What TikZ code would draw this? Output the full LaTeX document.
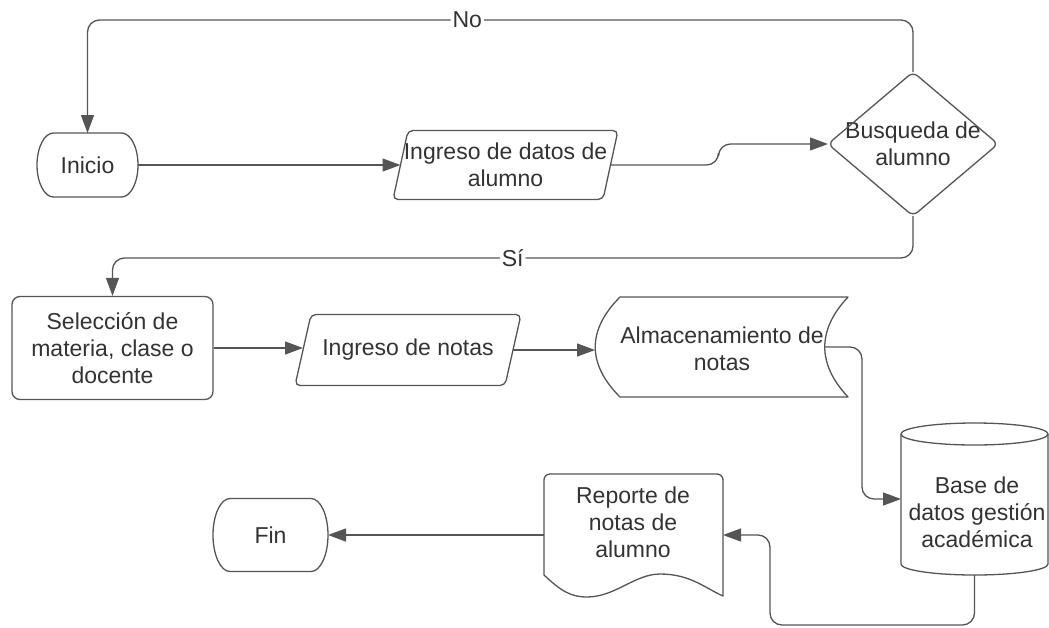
\documentclass[tikz,border=0pt]{standalone}
\usepackage{fontspec}
\setmainfont{Liberation Sans}
\usetikzlibrary{arrows.meta,calc}
\definecolor{linec}{RGB}{85,85,85}
\definecolor{txtc}{RGB}{51,51,51}
\newcommand\flowfont{\fontsize{23}{27}\selectfont}
\tikzset{
  outline/.style={draw=linec, line width=1.3pt, line join=round},
  txt/.style={text=txtc, font=\flowfont, align=center, inner sep=0pt},
  anchorbox/.style={inner sep=0pt, outer sep=0pt, draw=none},
  flow/.style={draw=linec, line width=1.3pt, rounded corners=12pt, -{Triangle[length=18pt,width=13pt]}},
  edgelabel/.style={txt, fill=white, inner xsep=2pt, inner ysep=1pt},
}
\begin{document}
\begin{tikzpicture}[x=1pt,y=-1pt]
\fill[white] (0,0) rectangle (1049,627);
\useasboundingbox (0,0) rectangle (1049,627);

% Inicio (terminator)
\node[anchorbox, txt, minimum width=101pt, minimum height=64pt] (inicio) at (87.5,165) {Inicio};
\draw[outline] (53.5,133) -- (121.5,133) arc[start angle=90,end angle=-90,x radius=16.5pt,y radius=32pt]
  -- (53.5,197) arc[start angle=270,end angle=90,x radius=16.5pt,y radius=32pt] -- cycle;

% Ingreso de datos (data)
\node[anchorbox, txt, minimum width=210pt, minimum height=69pt] (datos) at (505.5,165) {Ingreso de datos de\\alumno};
\draw[outline, rounded corners=5pt] (513,130.5) -- (618,130.5) -- (603,199.5) -- (393,199.5) -- (408,130.5) -- cycle;

% Busqueda (decision)
\node[anchorbox, txt, minimum width=170pt, minimum height=144pt] (busq) at (913,144) {Busqueda de\\alumno};
\draw[outline, rounded corners=6pt] (870.5,108) -- (913,72) -- (998,144) -- (913,216) -- (828,144) -- cycle;

% Seleccion (process)
\node[txt, draw=linec, line width=1.3pt, rounded corners=8pt, minimum width=201pt, minimum height=103pt] (sel) at (112.5,348) {Selección de\\materia, clase o\\docente};

% Ingreso de notas (data)
\node[anchorbox, txt, minimum width=210pt, minimum height=71pt] (notas) at (408,350) {Ingreso de notas};
\draw[outline, rounded corners=5pt] (416,314.5) -- (521,314.5) -- (505,385.5) -- (295,385.5) -- (311,314.5) -- cycle;

% Almacenamiento (stored data)
\node[anchorbox, minimum width=253pt, minimum height=100pt] (alm) at (721.5,347) {};
\draw[outline] (620,297) -- (848,297) .. controls (817,330) and (817,364) .. (848,397)
  -- (620,397) .. controls (587,364) and (587,330) .. (620,297) -- cycle;
\node[txt] (almT) at (722,348.5) {Almacenamiento de\\notas};
\coordinate (almout) at ($(alm.east)+(-23,0)$);

% Base de datos (cylinder)
\node[anchorbox, minimum width=147pt, minimum height=152pt] (db) at (974.5,499) {};
\draw[outline] (901,434) -- (901,564) arc[start angle=180,end angle=360,x radius=73.5pt,y radius=11pt] -- (1048,434);
\draw[outline] (974.5,434) ellipse [x radius=73.5pt, y radius=11pt];
\node[txt] (dbT) at (977,512.5) {Base de\\datos gestión\\académica};

% Reporte (document)
\node[anchorbox, minimum width=179pt, minimum height=122pt] (rep) at (633.5,535) {};
\draw[outline] (544,575) -- (544,480) arc[start angle=180,end angle=90,radius=6pt] -- (717,474)
  arc[start angle=90,end angle=0,radius=6pt] -- (723,596)
  .. controls (705,588) and (690,574) .. (660,574)
  .. controls (635,574) and (615,597) .. (587,597)
  .. controls (570,597) and (560,590) .. (544,575) -- cycle;
\node[txt] (repT) at (633,522.5) {Reporte de\\notas de\\alumno};

% Fin (terminator)
\node[anchorbox, txt, minimum width=115pt, minimum height=73pt] (fin) at (270.5,535) {Fin};
\draw[outline] (230,498.5) -- (311,498.5) arc[start angle=90,end angle=-90,x radius=17pt,y radius=36.5pt]
  -- (230,571.5) arc[start angle=270,end angle=90,x radius=17pt,y radius=36.5pt] -- cycle;

% Connectors
\draw[flow] (inicio.east) -- (inicio.east -| datos.west);
\draw[flow] (datos.east) -- ++(108,0) |- (busq.west);
\draw[flow] (busq.north) -- ++(0,-52) -| node[edgelabel, pos=0.27] (nolbl) {No} (inicio.north);
\draw[flow] (busq.south) -- ++(0,42) -| node[edgelabel, pos=0.25] (silbl) {Sí} (sel.north);
\draw[flow] (sel.east) -- (sel.east -| notas.west);
\draw[flow] (notas.east) -- (notas.east -| alm.west);
\draw[flow] (almout) -- ++(37,0) |- (db.west);
\draw[flow] (db.south) -- ++(0,50) -| ($(rep.east)+(47,0)$) -- (rep.east);
\draw[flow] (rep.west) -- (rep.west -| fin.east);
\end{tikzpicture}
\end{document}
